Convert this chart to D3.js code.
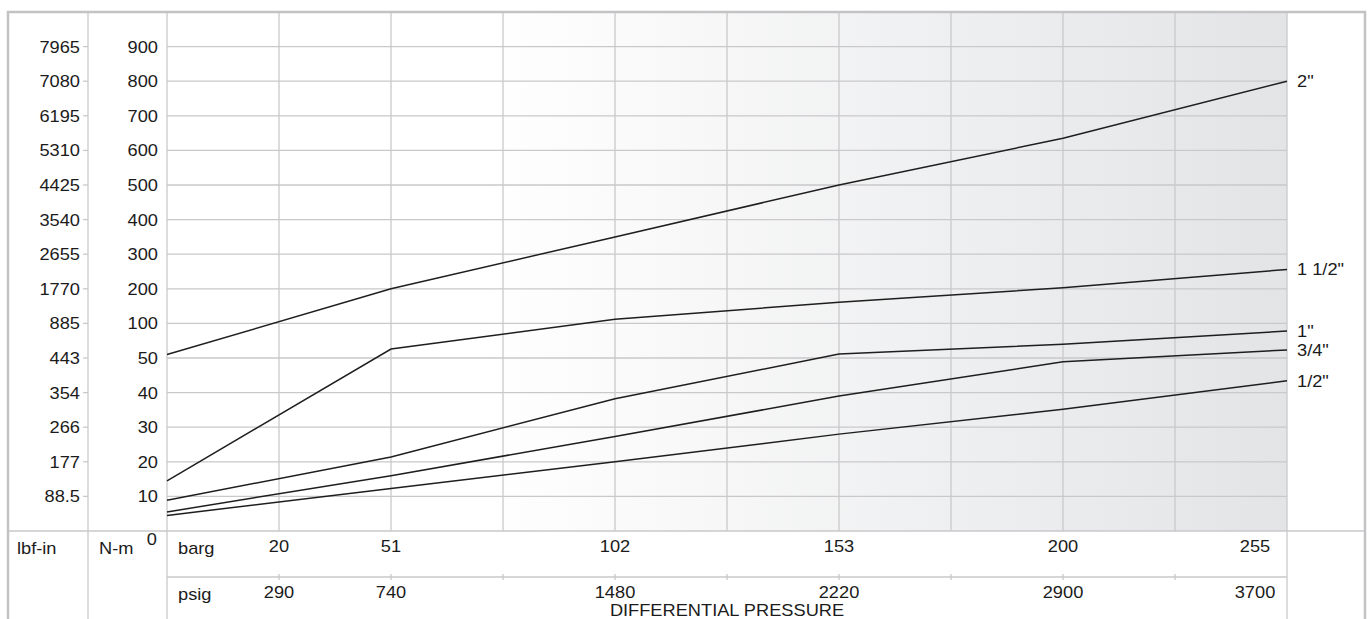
<!DOCTYPE html>
<html>
<head>
<meta charset="utf-8">
<script src="https://cdn.jsdelivr.net/npm/d3@7"></script>
<style>
  html, body { margin: 0; padding: 0; background: #fff; }
  svg text { font-family: "Liberation Sans", Arial, sans-serif; fill: #1b1b1b; }
</style>
</head>
<body>
<div id="chart"></div>
<script>
// torque (N-m) ticks on the left, with the matching lbf-in values
const nmTicks = [0, 10, 20, 30, 40, 50, 100, 200, 300, 400, 500, 600, 700, 800, 900];
const lbfTicks = ['', '88.5', '177', '266', '354', '443', '885', '1770', '2655', '3540', '4425', '5310', '6195', '7080', '7965'];

// differential pressure, barg / psig
const bargTicks = [20, 51, 102, 153, 200, 255];
const psigTicks = [290, 740, 1480, 2220, 2900, 3700];
const pressurePoints = [0, 51, 102, 153, 200, 255];

// valve sizes and torque curves (N-m)
const sizes = ['2"', '1 1/2"', '1"', '3/4"', '1/2"'];
const torque2 = [55, 200, 350, 500, 635, 800];
const torque112 = [14.5, 63, 112, 161, 203, 256];
const torque1 = [8.9, 21.4, 38.2, 55.8, 70, 89];
const torque34 = [5.5, 16, 27.3, 39, 48.9, 61.6];
const torque12 = [4.5, 12.3, 20, 28, 35.2, 43.4];
const series = [torque2, torque112, torque1, torque34, torque12];

const width = 1368, height = 619;
const frame = {left: 8, top: 12, right: 1365, bottom: 619};
const plot = {left: 167, right: 1287, top: 12, bottom: 531};
const lbfCol = 88;
const cols = 10;
const colW = (plot.right - plot.left) / cols;
const rowH = (plot.bottom - plot.top) / (nmTicks.length + 0);   // 15 rows incl. headroom

const gridColor = '#c9c9cb';
const sx = 1.14;   // the reference text is a bit wide

const svg = d3.select('#chart').append('svg')
  .attr('width', width)
  .attr('height', height);

// background shading of the plot
const defs = svg.append('defs');
const grad = defs.append('linearGradient')
  .attr('id', 'bg')
  .attr('x1', 0).attr('x2', 1).attr('y1', 0).attr('y2', 0);
grad.append('stop').attr('offset', '0%').attr('stop-color', '#ffffff');
grad.append('stop').attr('offset', '28%').attr('stop-color', '#ffffff');
grad.append('stop').attr('offset', '100%').attr('stop-color', '#e3e4e6');

svg.append('rect')
  .attr('x', plot.left).attr('y', plot.top)
  .attr('width', plot.right - plot.left)
  .attr('height', plot.bottom - plot.top)
  .attr('fill', 'url(#bg)');

// scales: both axes are piecewise (schematic spacing)
const y = d3.scaleLinear()
  .domain(nmTicks)
  .range(nmTicks.map((d, i) => plot.bottom - i * rowH));

const xIndex = [0, 1, 2, 4, 6, 8, 10];   // column of 0, 20, 51, 102, 153, 200, 255
const x = d3.scaleLinear()
  .domain([0].concat(bargTicks))
  .range(xIndex.map(i => plot.left + i * colW));

function label(g, tx, ty, txt, anchor) {
  return g.append('text')
    .attr('transform', `translate(${tx},${ty}) scale(${sx},1)`)
    .attr('text-anchor', anchor || 'start')
    .style('font-size', '16px')
    .text(txt);
}

// grid
const grid = svg.append('g');
grid.selectAll('.hgrid')
  .data(nmTicks.slice(1))
  .enter().append('line')
  .attr('class', 'hgrid')
  .attr('x1', plot.left).attr('x2', plot.right)
  .attr('y1', d => y(d)).attr('y2', d => y(d))
  .attr('stroke', gridColor).attr('stroke-width', 1.3);

grid.selectAll('.vgrid')
  .data(d3.range(1, cols))
  .enter().append('line')
  .attr('class', 'vgrid')
  .attr('x1', i => plot.left + i * colW).attr('x2', i => plot.left + i * colW)
  .attr('y1', plot.top).attr('y2', plot.bottom)
  .attr('stroke', gridColor).attr('stroke-width', 1.3);

// frame and table lines
const lines = svg.append('g').attr('stroke', gridColor).attr('stroke-width', 1.3);
[lbfCol, plot.left, plot.right].forEach(v => {
  lines.append('line').attr('x1', v).attr('x2', v).attr('y1', frame.top).attr('y2', frame.bottom);
});
lines.append('line').attr('x1', frame.left).attr('x2', frame.right).attr('y1', plot.bottom).attr('y2', plot.bottom);
lines.append('line').attr('x1', plot.left).attr('x2', plot.right).attr('y1', 577).attr('y2', 577);
d3.range(1, cols).forEach(i => {
  const v = plot.left + i * colW;
  lines.append('line').attr('x1', v).attr('x2', v).attr('y1', 574).attr('y2', 580);
});
svg.append('path')
  .attr('d', `M${frame.left},${frame.bottom} V${frame.top} H${frame.right} V${frame.bottom}`)
  .attr('fill', 'none')
  .attr('stroke', '#c3c3c5')
  .attr('stroke-width', 2.5);

// left tick labels
const yAxis = svg.append('g');
nmTicks.forEach((d, i) => {
  if (i === 0) return;
  label(yAxis, 158, y(d) + 6, d, 'end');
  label(yAxis, 80, y(d) + 6, lbfTicks[i], 'end');
  yAxis.append('line')
    .attr('x1', 83).attr('x2', lbfCol)
    .attr('y1', y(d)).attr('y2', y(d))
    .attr('stroke', gridColor).attr('stroke-width', 1.3);
});
label(yAxis, 157, 545, '0', 'end');
label(yAxis, 17, 554, 'lbf-in');
label(yAxis, 99, 554, 'N-m');

// bottom axis labels
const xAxis = svg.append('g');
label(xAxis, 178, 554, 'barg');
label(xAxis, 178, 600, 'psig');
bargTicks.forEach((d, i) => {
  const last = i === bargTicks.length - 1;
  const px = x(d) - (last ? 32 : 0);
  label(xAxis, px, 552, d, 'middle');
  label(xAxis, px, 598, psigTicks[i], 'middle');
});
label(xAxis, plot.left + 5 * colW, 616, 'DIFFERENTIAL PRESSURE', 'middle');

// torque curves
const line = d3.line()
  .x((d, i) => x(pressurePoints[i]))
  .y(d => y(d));

const curves = svg.append('g');
series.forEach((s, k) => {
  curves.append('path')
    .datum(s)
    .attr('d', line)
    .attr('fill', 'none')
    .attr('stroke', '#1e1e1e')
    .attr('stroke-width', 1.5);
  label(curves, plot.right + 10, y(s[s.length - 1]) + 6, sizes[k]);
});
</script>
</body>
</html>
